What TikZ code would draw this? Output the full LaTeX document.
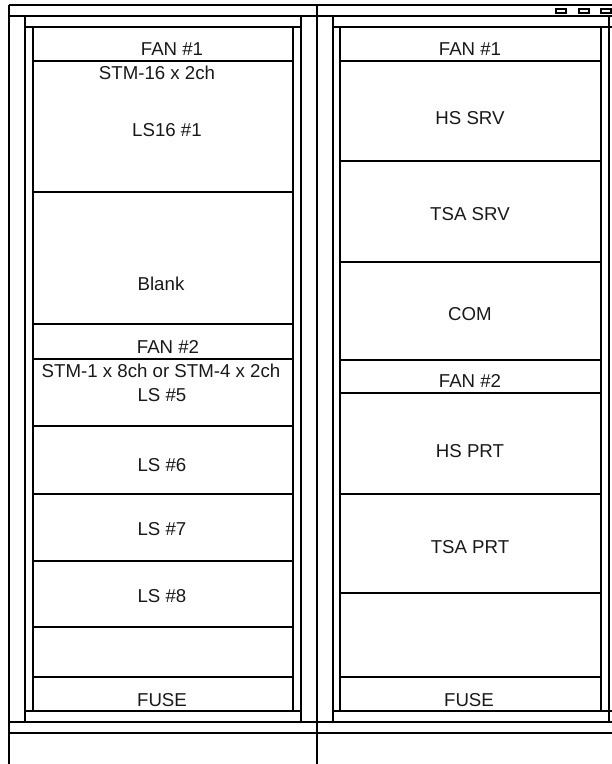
\documentclass[tikz,border=0pt]{standalone}
\usepackage{fontspec}
\setmainfont{Liberation Sans}
\usetikzlibrary{fit}
\begin{document}
\begin{tikzpicture}[x=0.75pt,y=-0.75pt,
  frame/.style={line width=0.8pt},
  post/.style={line width=1.3pt},
  module/.style={draw, line width=1.5pt, inner sep=0pt, rectangle},
  lbl/.style={anchor=base, inner sep=0pt, text=black!90, font=\fontsize{14}{16}\selectfont},
  lamp/.style={draw, line width=1pt, inner sep=0pt, rectangle}]
\useasboundingbox (0,0) rectangle (611,764);
% cabinet frame
\draw[frame] (9,5) -- (620,5);
\draw[frame] (9,16) -- (620,16);
\draw[frame] (9,722) -- (620,722);
\draw[post] (9,733) -- (620,733);
\draw[frame] (9,5) -- (9,764);
\draw[line width=1.6pt] (317,5) -- (317,764);
% left rack posts and slot frame
\draw[post] (25,16) -- (25,722);
\draw[post] (301,16) -- (301,722);
\draw[frame] (25,27) -- (301,27);
\draw[frame] (25,711) -- (301,711);
\draw[frame] (33,27) -- (33,711);
\draw[frame] (293,27) -- (293,711);
% right rack posts and slot frame
\draw[post] (333,16) -- (333,722);
\draw[post] (609,16) -- (609,722);
\draw[frame] (333,27) -- (620,27);
\draw[frame] (333,711) -- (620,711);
\draw[frame] (340,27) -- (340,711);
\draw[frame] (601,27) -- (601,711);
% lamps
\node[lamp, fit={(556,9)(566,13)}] (lamp1) {};
\node[lamp, fit={(579,9)(589,13)}] (lamp2) {};
\node[lamp, fit={(601,9)(611,13)}] (lamp3) {};
% left modules
\node[module, fit={(33,27)(293,61)}] (f1L) {};
\node[module, fit={(33,61)(293,192)}] (ls16) {};
\node[module, fit={(33,192)(293,324)}] (blank) {};
\node[module, fit={(33,324)(293,359)}] (f2L) {};
\node[module, fit={(33,359)(293,426)}] (ls5) {};
\node[module, fit={(33,426)(293,494)}] (ls6) {};
\node[module, fit={(33,494)(293,561)}] (ls7) {};
\node[module, fit={(33,561)(293,627)}] (ls8) {};
\node[module, fit={(33,677)(293,711)}] (fuseL) {};
% right modules
\node[module, fit={(340,27)(601,61)}] (f1R) {};
\node[module, fit={(340,61)(601,161)}] (hssrv) {};
\node[module, fit={(340,161)(601,262)}] (tsasrv) {};
\node[module, fit={(340,262)(601,360)}] (com) {};
\node[module, fit={(340,360)(601,393)}] (f2R) {};
\node[module, fit={(340,393)(601,494)}] (hsprt) {};
\node[module, fit={(340,494)(601,593)}] (tsaprt) {};
\node[module, fit={(340,677)(601,711)}] (fuseR) {};
% left labels
\node[lbl] (tf1L) at (172,55) {FAN \#1};
\node[lbl] (tstm16) at (157,79) {STM-16 x 2ch};
\node[lbl] (tls16) at (167,136) {LS16 \#1};
\node[lbl] (tblank) at (161,290) {Blank};
\node[lbl] (tf2L) at (168,353) {FAN \#2};
\node[lbl] (tstm1) at (161,377) {STM-1 x 8ch or STM-4 x 2ch};
\node[lbl] (tls5) at (162,401) {LS \#5};
\node[lbl] (tls6) at (162,471) {LS \#6};
\node[lbl] (tls7) at (162,535) {LS \#7};
\node[lbl] (tls8) at (162,602) {LS \#8};
\node[lbl] (tfuseL) at (162,706) {FUSE};
% right labels
\node[lbl] (tf1R) at (470,55) {FAN \#1};
\node[lbl] (thssrv) at (470,124) {HS SRV};
\node[lbl] (ttsasrv) at (470,220) {TSA SRV};
\node[lbl] (tcom) at (470,320) {COM};
\node[lbl] (tf2R) at (470,387) {FAN \#2};
\node[lbl] (thsprt) at (470,457) {HS PRT};
\node[lbl] (ttsaprt) at (470,553) {TSA PRT};
\node[lbl] (tfuseR) at (469,706) {FUSE};
\end{tikzpicture}
\end{document}
